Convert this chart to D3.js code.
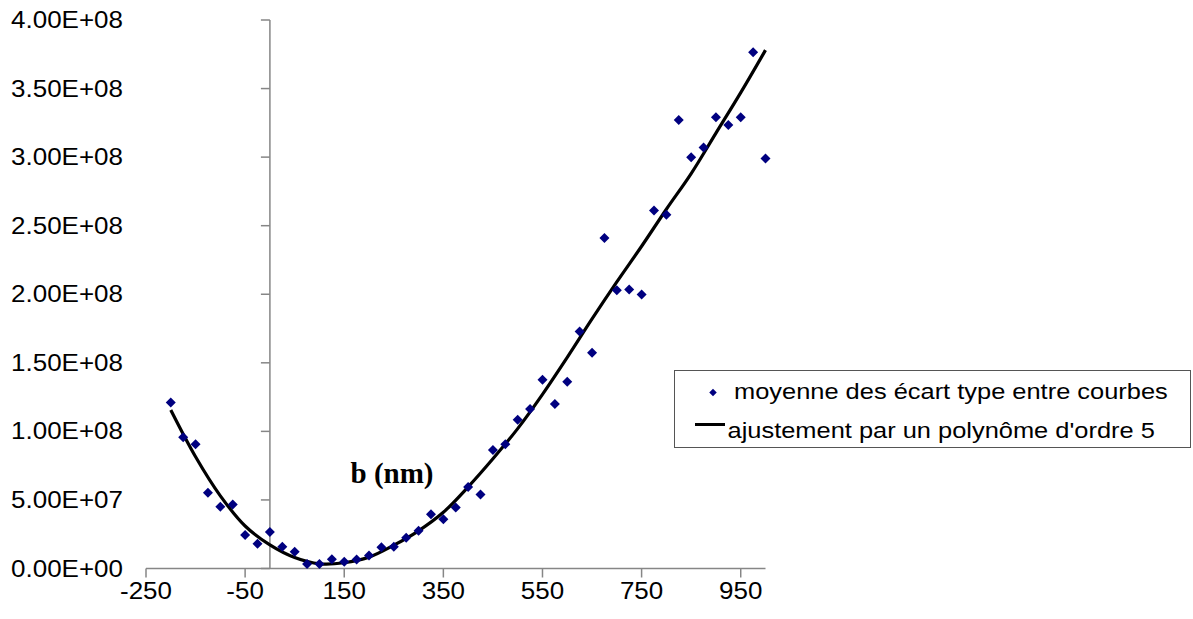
<!DOCTYPE html>
<html>
<head>
<meta charset="utf-8">
<script src="https://cdn.jsdelivr.net/npm/d3@7"></script>
<style>
  html, body { margin: 0; padding: 0; background: #fff; }
  svg { display: block; }
  text { font-family: "Liberation Sans", Arial, sans-serif; fill: #000; }
</style>
</head>
<body>
<svg id="chart" width="1193" height="619"></svg>
<script>
// ---- data ----
const bNm = [-200, -175, -150, -125, -100, -75, -50, -25, 0, 25, 50, 75, 100, 125, 150, 175, 200,
  225, 250, 275, 300, 325, 350, 375, 400, 425, 450, 475, 500, 525, 550, 575, 600, 625, 650, 675,
  700, 725, 750, 775, 800, 825, 850, 875, 900, 925, 950, 975, 1000];
const meanStd = [1.21e8, 9.58e7, 9.07e7, 5.53e7, 4.51e7, 4.66e7, 2.45e7, 1.81e7, 2.66e7, 1.59e7,
  1.23e7, 3.3e6, 3.3e6, 6.7e6, 5.0e6, 6.5e6, 9.5e6, 1.55e7, 1.59e7, 2.25e7, 2.76e7, 3.96e7,
  3.59e7, 4.44e7, 5.95e7, 5.39e7, 8.65e7, 9.07e7, 1.084e8, 1.164e8, 1.376e8, 1.199e8, 1.361e8,
  1.728e8, 1.573e8, 2.41e8, 2.03e8, 2.035e8, 1.999e8, 2.61e8, 2.58e8, 3.27e8, 2.999e8, 3.07e8,
  3.29e8, 3.235e8, 3.29e8, 3.765e8, 2.99e8];
// fitted polynomial curve
const fitX = [-200, -150, -100, -50, 0, 50, 100, 150, 200, 250, 300, 350, 400, 450, 500, 550,
  600, 650, 700, 750, 800, 850, 900, 950, 1000];
const fitY = [1.156e8, 8.15e7, 5.3e7, 3.1e7, 1.72e7, 8.0e6, 3.4e6, 4.2e6, 8.3e6, 1.7e7, 2.75e7,
  4.1e7, 5.95e7, 8.0e7, 1.02e8, 1.27e8, 1.54e8, 1.82e8, 2.09e8, 2.35e8, 2.62e8, 2.88e8, 3.175e8,
  3.47e8, 3.78e8];
const xTicks = [-250, -50, 150, 350, 550, 750, 950];
const yTicks = [0, 5e7, 1e8, 1.5e8, 2e8, 2.5e8, 3e8, 3.5e8, 4e8];
const yTickLabels = ["0.00E+00", "5.00E+07", "1.00E+08", "1.50E+08", "2.00E+08", "2.50E+08",
  "3.00E+08", "3.50E+08", "4.00E+08"];
const legendLabels = ["moyenne des écart type entre courbes", "ajustement par un polynôme d'ordre 5"];
const axisTitle = "b (nm)";

// ---- layout ----
const svg = d3.select("#chart");
const x = d3.scaleLinear().domain([-250, 1000]).range([146, 765.5]);
const y = d3.scaleLinear().domain([0, 4e8]).range([568.5, 20]);
const SX = 1.13; // horizontal stretch of the reference text
const axisColor = "#868686";

// X axis (at y = 0)
const xAxis = svg.append("g").attr("transform", `translate(0,${y(0)})`);
xAxis.append("line").attr("x1", x(-250)).attr("x2", x(1000)).attr("y1", 0).attr("y2", 0)
  .attr("stroke", axisColor).attr("stroke-width", 1.5);
xAxis.selectAll("line.tick").data(xTicks).join("line").attr("class", "tick")
  .attr("x1", d => x(d)).attr("x2", d => x(d)).attr("y1", 0).attr("y2", 9)
  .attr("stroke", axisColor).attr("stroke-width", 1.5);
xAxis.selectAll("text").data(xTicks).join("text")
  .attr("transform", d => `translate(${x(d)},30.5) scale(${SX},1)`)
  .attr("text-anchor", "middle").attr("font-size", 23).text(d => d);

// Y axis (at x = 0)
const yAxis = svg.append("g").attr("transform", `translate(${x(0)},0)`);
yAxis.append("line").attr("x1", 0).attr("x2", 0).attr("y1", y(4e8)).attr("y2", y(0))
  .attr("stroke", axisColor).attr("stroke-width", 1.5);
yAxis.selectAll("line.tick").data(yTicks).join("line").attr("class", "tick")
  .attr("x1", -9).attr("x2", 0).attr("y1", d => y(d)).attr("y2", d => y(d))
  .attr("stroke", axisColor).attr("stroke-width", 1.5);
svg.append("g").selectAll("text").data(yTicks).join("text")
  .attr("transform", d => `translate(123,${y(d) + 8}) scale(${SX},1)`)
  .attr("text-anchor", "end").attr("font-size", 23).text((d, i) => yTickLabels[i]);

// axis title
svg.append("text").attr("x", 392).attr("y", 483).attr("text-anchor", "middle")
  .style("font-family", "'Liberation Serif', 'Times New Roman', serif")
  .attr("font-weight", "bold").attr("font-size", 29).text(axisTitle);

// fitted curve
const line = d3.line().x(d => x(d[0])).y(d => y(d[1])).curve(d3.curveCatmullRom.alpha(0.5));
svg.append("path").datum(fitX.map((v, i) => [v, fitY[i]]))
  .attr("d", line).attr("fill", "none").attr("stroke", "#000").attr("stroke-width", 3.2);

// data points (diamonds)
const diamond = d3.symbol().type(d3.symbolSquare).size(50);
svg.append("g").selectAll("path").data(bNm.map((v, i) => [v, meanStd[i]])).join("path")
  .attr("d", diamond)
  .attr("transform", d => `translate(${x(d[0])},${y(d[1])}) rotate(45)`)
  .attr("fill", "#000080");

// legend
const lg = svg.append("g");
lg.append("rect").attr("x", 674.5).attr("y", 370.5).attr("width", 516).attr("height", 77)
  .attr("fill", "#fff").attr("stroke", "#555").attr("stroke-width", 1);
lg.append("path").attr("d", diamond)
  .attr("fill", "#000080").attr("transform", "translate(713,392.5) rotate(45) scale(0.75)");
lg.append("line").attr("x1", 695).attr("x2", 725).attr("y1", 424.5).attr("y2", 424.5)
  .attr("stroke", "#000").attr("stroke-width", 3);
lg.append("text").attr("transform", `translate(734,399) scale(${SX},1)`)
  .attr("font-size", 22.5).text(legendLabels[0]);
lg.append("text").attr("transform", `translate(727.5,438) scale(${SX},1)`)
  .attr("font-size", 22.5).text(legendLabels[1]);
</script>
</body>
</html>
